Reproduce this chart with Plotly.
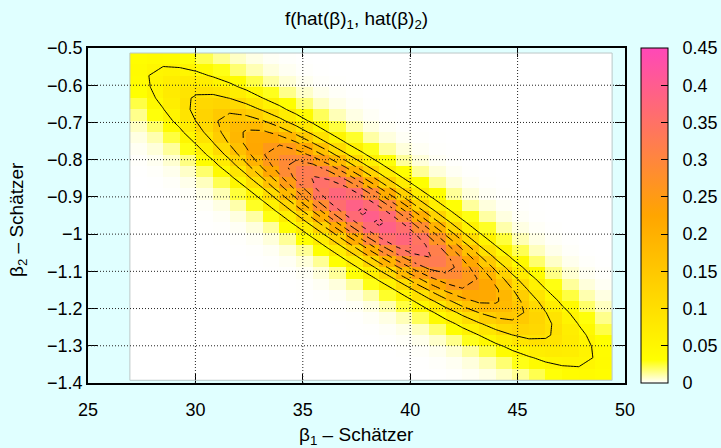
import numpy as np
import plotly.graph_objects as go

# ---- texts ----
title_text = "f(hat(β)<sub>1</sub>, hat(β)<sub>2</sub>)"
x_label = "β<sub>1</sub> – Schätzer"
y_label = "β<sub>2</sub> – Schätzer"

# ---- values ----
# bivariate normal density of the two estimators (parameters estimated from the plot)
mean_b1 = 38.17
mean_b2 = -0.953
sd_b1 = 5.05
sd_b2 = 0.197
rho = -0.921

# sampling grid of the surface (30 x 30 samples)
b1_first, b1_last, n_b1 = 26.95, 49.4, 30
b2_first, b2_last, n_b2 = -1.3927, -0.5135, 30

contour_levels = [0.05, 0.10, 0.15, 0.20, 0.25, 0.30, 0.35, 0.40]
contour_dashes = ["solid", "solid", "14px,4px", "9px,5px", "6px,4px",
                  "10px,4px,2px,4px", "5px,5px", "3px,4px"]

x_ticks = [25, 30, 35, 40, 45, 50]
y_ticks = [-1.4, -1.3, -1.2, -1.1, -1.0, -0.9, -0.8, -0.7, -0.6, -0.5]
cb_ticks = [0, 0.05, 0.1, 0.15, 0.2, 0.25, 0.3, 0.35, 0.4, 0.45]
cb_labels = ["0", "0.05", "0.1", "0.15", "0.2", "0.25", "0.3", "0.35", "0.4", "0.45"]
cb_min, cb_max = 0.0, 0.45

# ---- surface ----
b1_grid = np.linspace(b1_first, b1_last, n_b1)
b2_grid = np.linspace(b2_first, b2_last, n_b2)
B1, B2 = np.meshgrid(b1_grid, b2_grid)
u = (B1 - mean_b1) / sd_b1
v = (B2 - mean_b2) / sd_b2
q = (u**2 - 2 * rho * u * v + v**2) / (1 - rho**2)
dens = np.exp(-q / 2) / (2 * np.pi * sd_b1 * sd_b2 * np.sqrt(1 - rho**2))
# pm3d-style cells: mean of the four corners
cells = (dens[:-1, :-1] + dens[1:, :-1] + dens[:-1, 1:] + dens[1:, 1:]) / 4

FONT = "Liberation Sans, Arial, Helvetica, sans-serif"
palette = [[0.0, "#ffffff"], [0.07, "#ffff00"], [0.5, "#ffa500"], [1.0, "#ff48b8"]]

PLOT_W = 721 - 88 - 96
CB_X = 1.0298
CB_THICK = 27

fig = go.Figure()
fig.add_trace(go.Heatmap(
    x=b1_grid, y=b2_grid, z=cells,
    zmin=cb_min, zmax=cb_max, colorscale=palette,
    colorbar=dict(
        thickness=CB_THICK, thicknessmode="pixels", len=1, lenmode="fraction",
        y=0.5, yanchor="middle", ypad=0, x=CB_X, xanchor="left", xpad=0,
        outlinewidth=1, outlinecolor="black",
        tickvals=cb_ticks, ticktext=["\u00a0\u00a0" + t for t in cb_labels],
        ticks="inside", ticklen=7, tickcolor="black",
        tickfont=dict(size=18, family=FONT, color="black"),
    ),
    hoverinfo="skip",
))

for lev, dsh in zip(contour_levels, contour_dashes):
    fig.add_trace(go.Contour(
        x=b1_grid, y=b2_grid, z=dens,
        autocontour=False,
        contours=dict(start=lev, end=lev, size=1, coloring="none"),
        line=dict(color="black", width=1, dash=dsh, smoothing=0),
        showscale=False, hoverinfo="skip",
    ))

shapes = []
shapes.append(dict(type="rect", xref="x", yref="y",
                   x0=b1_grid[0], x1=b1_grid[-1], y0=b2_grid[0], y1=b2_grid[-1],
                   line=dict(color="#bcc8c8", width=1), layer="above"))
for xv in x_ticks[1:-1]:
    shapes.append(dict(type="line", xref="x", yref="y", x0=xv, x1=xv,
                       y0=y_ticks[0], y1=y_ticks[-1],
                       line=dict(color="#222222", width=1, dash="1px,2px"), layer="above"))
for yv in y_ticks[1:-1]:
    shapes.append(dict(type="line", xref="x", yref="y", x0=x_ticks[0], x1=x_ticks[-1],
                       y0=yv, y1=yv,
                       line=dict(color="#222222", width=1, dash="1px,2px"), layer="above"))
# mirrored colour-box tics on the left side of the colour bar
for t in cb_ticks[1:-1]:
    yp = (t - cb_min) / (cb_max - cb_min)
    shapes.append(dict(type="line", xref="paper", yref="paper",
                       x0=CB_X, x1=CB_X + 7 / PLOT_W, y0=yp, y1=yp,
                       line=dict(color="black", width=1), layer="above"))

axis_common = dict(showgrid=False, zeroline=False, showline=True, linecolor="black",
                   linewidth=1.5, mirror="ticks", ticks="inside", tickcolor="black",
                   tickfont=dict(size=18, family=FONT, color="black"))

fig.update_layout(
    width=721, height=448,
    margin=dict(l=88, r=96, t=48, b=65, autoexpand=False),
    paper_bgcolor="#e0ffff", plot_bgcolor="#e0ffff",
    showlegend=False,
    title=dict(text=title_text, x=0.4945, xanchor="center", y=0.958, yanchor="middle",
               font=dict(size=19, family=FONT, color="black")),
    xaxis=dict(range=[25, 50], tickvals=x_ticks, ticklen=9, ticklabelstandoff=10,
               **axis_common),
    yaxis=dict(range=[-1.4, -0.5], tickvals=y_ticks, ticklen=10, **axis_common),
    shapes=shapes,
    annotations=[
        dict(text=x_label, xref="paper", yref="paper", x=0.5, y=-0.157,
             xanchor="center", yanchor="middle", showarrow=False,
             font=dict(size=19, family=FONT, color="black")),
        dict(text=y_label, xref="paper", yref="paper", x=-0.13, y=0.487,
             xanchor="center", yanchor="middle", textangle=-90, showarrow=False,
             font=dict(size=19, family=FONT, color="black")),
    ],
)

fig.write_html("out.html")
